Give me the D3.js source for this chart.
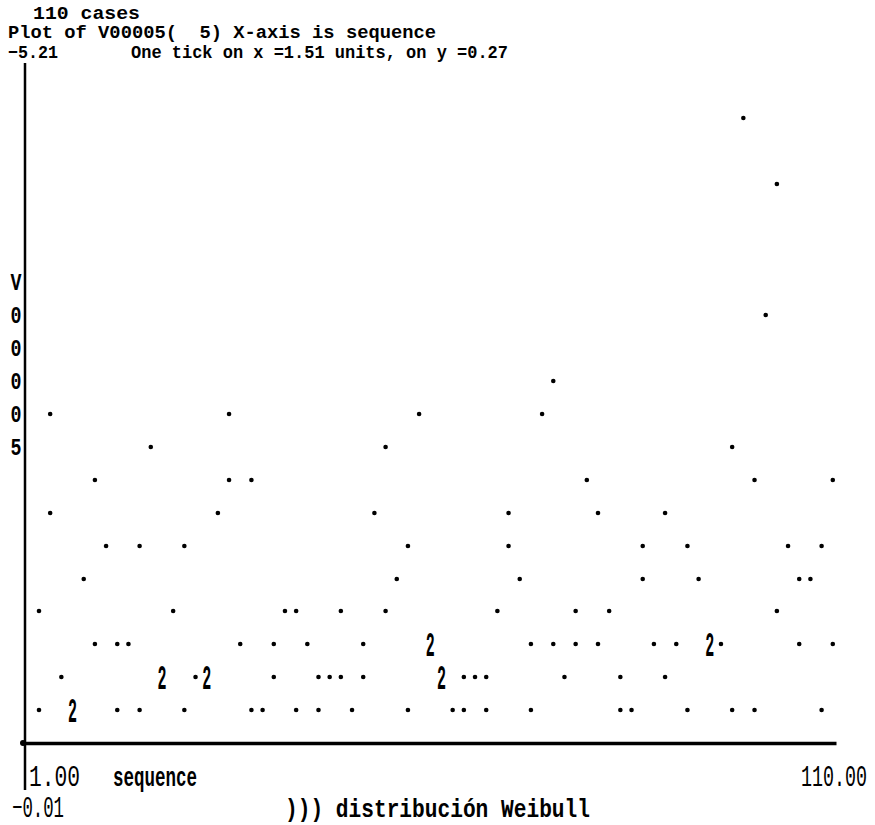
<!DOCTYPE html>
<html lang="es">
<head>
<meta charset="UTF-8">
<title>Plot of V00005</title>
<script src="https://d3js.org/d3.v7.min.js"></script>
<style>
  body { margin: 0; background: #fff; }
  text { font-family: "Liberation Mono", "DejaVu Sans Mono", monospace; fill: #000; white-space: pre; }
</style>
</head>
<body>
<div id="chart"></div>
<script>
// values
const nCases = 110;
const seqFrom = 1, seqTo = 110;          // x = sequence
const yBottom = -0.01, yTop = -5.21;     // y limits printed on the plot
const tickX = 1.51, tickY = 0.27;        // "one tick" sizes
const varName = "V00005";

// V00005 for case 1..110 (row of the printout, read as the row value)
const v00005 = [
  -1.09, -0.28, -2.71, -1.90, -0.55, -0.28, -0.28, -1.36, -2.17, -0.82,
  -1.63, -0.82, -0.28, -0.82, -1.63, -0.28, -2.44, -0.55, -0.55, -1.09,
  -1.63, -0.28, -0.55, -0.55, -0.55, -1.90, -2.71, -2.17, -0.82, -2.17,
  -0.28, -0.28, -0.82, -0.55, -1.09, -1.09, -0.28, -0.82, -0.55, -0.28,
  -0.55, -1.09, -0.55, -0.28, -0.82, -0.55, -1.90, -2.44, -1.09, -1.36,
  -1.63, -0.28, -2.71, -0.82, -0.82, -0.55, -0.55, -0.28, -0.55, -0.28,
  -0.55, -0.55, -0.28, -1.09, -1.90, -1.63, -1.36, -0.82, -0.28, -2.71,
  -2.98, -0.82, -0.55, -1.09, -0.82, -2.17, -1.90, -0.82, -1.09, -0.55,
  -0.28, -0.28, -1.63, -1.36, -0.82, -1.90, -0.55, -0.82, -1.63, -0.28,
  -1.36, -0.82, -0.82, -0.82, -2.44, -0.28, -5.14, -2.17, -0.28, -3.52,
  -4.60, -1.09, -1.63, -1.36, -0.82, -1.36, -1.63, -0.28, -2.17, -0.82
];
const sequence = d3.range(seqFrom, seqTo + 1);

const W = 875, H = 825;
const svg = d3.select("#chart").append("svg")
    .attr("width", W).attr("height", H);

// character grid of the line printer
const nCols = 72, colX0 = 39, colW = 11.18;
const axisY = 743, rowH = 32.9;

const x = d3.scaleQuantize()
    .domain([seqFrom, seqTo])
    .range(d3.range(nCols).map(k => colX0 + k * colW));
const y = d3.scaleLinear()
    .domain([yBottom, yTop])
    .range([axisY, axisY - (yBottom - yTop) / tickY * rowH]);

// axes
const xLine = d3.scaleLinear().domain([seqFrom, seqTo]).range([22, 836]);
svg.append("g")
    .attr("transform", `translate(0,${axisY})`)
    .call(d3.axisBottom(xLine).tickValues([]).tickSizeOuter(0))
    .select(".domain").attr("stroke", "#000").attr("stroke-width", 3.5);
svg.append("line")
    .attr("x1", 25).attr("x2", 25)
    .attr("y1", 63).attr("y2", 790)
    .attr("stroke", "#000").attr("stroke-width", 2.5);
svg.append("circle").attr("cx", 23).attr("cy", axisY).attr("r", 3).attr("fill", "#000");

// points: one character per cell, count when cases share a cell
const cells = d3.rollups(
    sequence.map((s, i) => ({s: s, v: v00005[i]})),
    g => g.length,
    d => x(d.s),
    d => Math.round(y(d.v))
  ).flatMap(([cx, rows]) => rows.map(([cy, n]) => ({cx: cx, cy: cy, n: n})));

svg.selectAll("circle.pt")
  .data(cells.filter(c => c.n === 1))
  .join("circle")
    .attr("class", "pt")
    .attr("cx", d => d.cx)
    .attr("cy", d => d.cy)
    .attr("r", 2.3)
    .attr("fill", "#000");

svg.selectAll("text.cnt")
  .data(cells.filter(c => c.n > 1))
  .join("text")
    .attr("class", "cnt")
    .attr("x", d => d.cx - 4.5)
    .attr("y", d => d.cy + 12)
    .attr("font-size", 35)
    .attr("font-weight", "bold")
    .attr("textLength", 9)
    .attr("lengthAdjust", "spacingAndGlyphs")
    .text(d => d.n);

// texts
function put(str, x0, base, w, size, weight) {
  svg.append("text")
      .attr("x", x0).attr("y", base)
      .attr("font-size", size)
      .attr("font-weight", weight)
      .attr("textLength", w)
      .attr("lengthAdjust", "spacingAndGlyphs")
      .text(str);
}
const f2 = d3.format(".2f");

put(`${nCases} cases`, 33, 19, 107, 18, "bold");
put(`Plot of ${varName}(  5) X-axis is sequence`, 8, 38, 428, 18, "bold");
put(f2(yTop), 8, 58, 50, 18, "bold");
put(`One tick on x =${f2(tickX)} units, on y =${f2(tickY)}`, 131, 58, 377, 18, "bold");

put(f2(seqFrom), 29, 786, 51, 30, "normal");
put("sequence", 113, 786, 84, 27, "bold");
put(f2(yBottom), 12, 817, 52, 30, "normal");
put("))) distribución Weibull", 285, 817, 305, 26, "bold");

// right end label: smaller font stretched upward so it stays inside the page
svg.append("text")
    .attr("transform", "translate(801,786) scale(1,1.5)")
    .attr("font-size", 20)
    .attr("textLength", 66)
    .attr("lengthAdjust", "spacingAndGlyphs")
    .text(f2(seqTo));

// vertical variable name beside the y axis
svg.selectAll("text.vname")
  .data(varName.split(""))
  .join("text")
    .attr("class", "vname")
    .attr("x", 16)
    .attr("y", (d, i) => y(yBottom - tickY * (14 - i)) + 8)
    .attr("text-anchor", "middle")
    .attr("font-size", 24)
    .attr("font-weight", "bold")
    .attr("textLength", 11)
    .attr("lengthAdjust", "spacingAndGlyphs")
    .text(d => d);
</script>
</body>
</html>
